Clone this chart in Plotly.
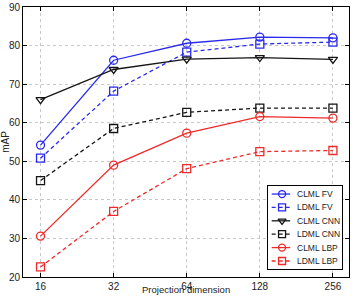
import plotly.graph_objects as go
import math

dims = [16, 32, 64, 128, 256]
tick_labels = ["16", "32", "64", "128", "256"]
clml_fv = [54.2, 76.2, 80.6, 82.2, 82.0]
ldml_fv = [50.8, 68.2, 78.3, 80.4, 80.9]
clml_cnn = [66.0, 73.8, 76.5, 76.9, 76.4]
ldml_cnn = [45.0, 58.5, 62.7, 63.8, 63.8]
clml_lbp = [30.6, 49.0, 57.3, 61.6, 61.2]
ldml_lbp = [22.6, 37.0, 48.1, 52.5, 52.8]

DASH = "4px,3px"
series = [
    ("CLML FV", clml_fv, "#2a2aee", "solid", "circle-open"),
    ("LDML FV", ldml_fv, "#2a2aee", DASH, "square-open"),
    ("CLML CNN", clml_cnn, "#151515", "solid", "triangle-down-open"),
    ("LDML CNN", ldml_cnn, "#151515", DASH, "square-open"),
    ("CLML LBP", clml_lbp, "#ee2a2a", "solid", "circle-open"),
    ("LDML LBP", ldml_lbp, "#ee2a2a", DASH, "square-open"),
]

fig = go.Figure()
for name, vals, col, dash, sym in series:
    fig.add_trace(go.Scatter(
        x=dims, y=vals, name=name, mode="lines+markers", showlegend=False,
        line=dict(color=col, width=1.3, dash=dash),
        marker=dict(symbol=sym, size=8, color=col, line=dict(width=1.3, color=col)),
    ))

# custom compact legend drawn in its own small axes
n = len(series)
for i, (name, vals, col, dash, sym) in enumerate(series):
    ry = n - 0.5 - i
    fig.add_trace(go.Scatter(
        x=[0.05, 0.30], y=[ry, ry], mode="lines", showlegend=False,
        line=dict(color=col, width=1.3, dash=dash), xaxis="x2", yaxis="y2",
        hoverinfo="skip",
    ))
    fig.add_trace(go.Scatter(
        x=[0.19], y=[ry], mode="markers", showlegend=False,
        marker=dict(symbol=sym, size=7, color=col, line=dict(width=1.3, color=col)),
        xaxis="x2", yaxis="y2", hoverinfo="skip",
    ))
    fig.add_annotation(
        x=0.36, y=ry, xref="x2", yref="y2", text=name, showarrow=False,
        xanchor="left", yanchor="middle", font=dict(size=8.5, color="#222"),
    )

font = "Liberation Sans, Arial, sans-serif"
fig.update_layout(
    width=352, height=296,
    margin=dict(l=23, r=3, t=7, b=19),
    paper_bgcolor="white", plot_bgcolor="white",
    font=dict(family=font, size=10, color="#222"),
    showlegend=False,
    xaxis=dict(
        type="log",
        range=[math.log10(2 ** 3.76), math.log10(2 ** 8.22)],
        tickvals=dims, ticktext=tick_labels,
        showline=True, linecolor="black", linewidth=1, mirror="allticks",
        ticks="inside", ticklen=4, tickcolor="black",
        showgrid=True, gridcolor="#c8c8c8", griddash="dot", gridwidth=1,
        zeroline=False, automargin=False, domain=[0, 1],
    ),
    yaxis=dict(
        range=[20, 90], tickvals=[20, 30, 40, 50, 60, 70, 80, 90],
        showline=True, linecolor="black", linewidth=1, mirror="allticks",
        ticks="inside", ticklen=4, tickcolor="black",
        showgrid=True, gridcolor="#c8c8c8", griddash="dot", gridwidth=1,
        zeroline=False,
        title=dict(text="mAP", standoff=2, font=dict(size=10)),
        automargin=False, domain=[0, 1],
    ),
    xaxis2=dict(
        domain=[0.7515, 0.9785], range=[0, 1], anchor="y2",
        showline=True, linecolor="black", linewidth=1.2, mirror=True,
        showgrid=False, zeroline=False, showticklabels=False, ticks="",
        fixedrange=True,
    ),
    yaxis2=dict(
        domain=[0.0296, 0.337], range=[-0.1, n + 0.1], anchor="x2",
        showline=True, linecolor="black", linewidth=1.2, mirror=True,
        showgrid=False, zeroline=False, showticklabels=False, ticks="",
        fixedrange=True,
    ),
)
fig.add_shape(
    type="rect", xref="x2 domain", yref="y2 domain", x0=0, x1=1, y0=0, y1=1,
    fillcolor="white", line=dict(width=0), layer="below",
)
fig.add_annotation(
    x=0.5, y=-(296 - 277) / 270, xref="paper", yref="paper",
    text="Projection dimension", showarrow=False, borderpad=0,
    xanchor="center", yanchor="bottom", font=dict(size=9.5, color="#222"),
)

fig.write_html("out.html")
